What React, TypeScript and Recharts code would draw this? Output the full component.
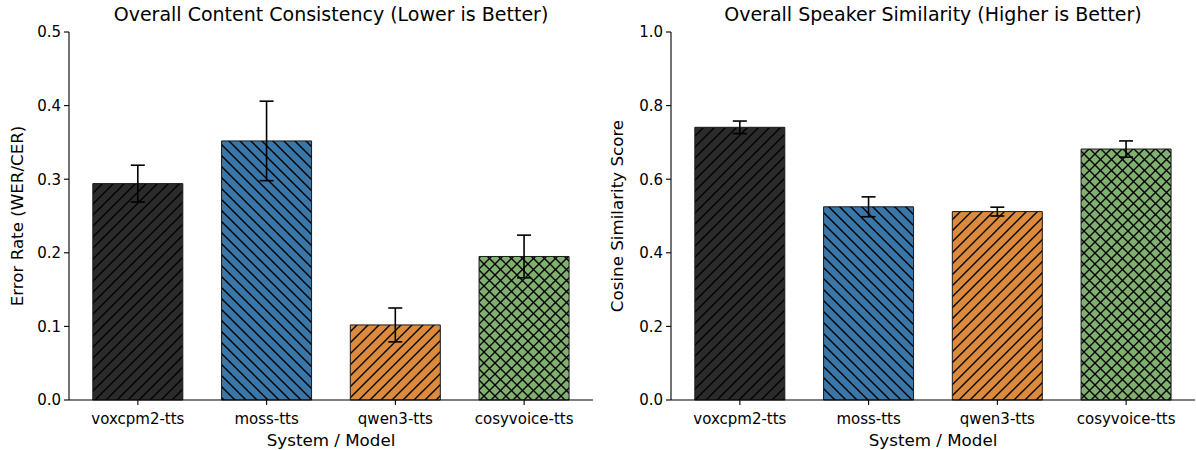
import React from "react";
import { BarChart, Bar, XAxis, YAxis, Cell, ErrorBar } from "recharts";

const models = ["voxcpm2-tts", "moss-tts", "qwen3-tts", "cosyvoice-tts"];
const errorRate = [0.294, 0.352, 0.102, 0.195];
const errorRateStd = [0.025, 0.054, 0.023, 0.029];
const similarity = [0.741, 0.525, 0.512, 0.682];
const similarityStd = [0.017, 0.027, 0.012, 0.022];

const errorTicks = [0, 0.1, 0.2, 0.3, 0.4, 0.5];
const simTicks = [0, 0.2, 0.4, 0.6, 0.8, 1.0];

const colors = ["#2b2b2b", "#3a76a8", "#dc8a3e", "#7fb070"];
const hatches = ["up", "down", "up", "cross"];

const FONT = "'DejaVu Sans', sans-serif";

const errorData = models.map((m, i) => ({ model: m, value: errorRate[i], err: errorRateStd[i] }));
const simData = models.map((m, i) => ({ model: m, value: similarity[i], err: similarityStd[i] }));

function HatchDefs({ prefix }: { prefix: string }) {
  return (
    <defs>
      {colors.map((c, i) => (
        <pattern
          key={i}
          id={`${prefix}-hatch-${i}`}
          patternUnits="userSpaceOnUse"
          width={11}
          height={11}
        >
          <rect width={11} height={11} fill={c} />
          {(hatches[i] === "up" || hatches[i] === "cross") && (
            <path d="M-2,2 L2,-2 M0,11 L11,0 M9,13 L13,9" stroke="#000" strokeWidth={1.4} />
          )}
          {(hatches[i] === "down" || hatches[i] === "cross") && (
            <path d="M-2,9 L2,13 M0,0 L11,11 M9,-2 L13,2" stroke="#000" strokeWidth={1.4} />
          )}
        </pattern>
      ))}
    </defs>
  );
}

const tickStyle = { fontSize: 15, fontFamily: FONT, fill: "#000" };
const labelStyle = { fontSize: 16.7, fontFamily: FONT, fill: "#000" };

interface PanelProps {
  prefix: string;
  data: { model: string; value: number; err: number }[];
  ticks: number[];
  domain: [number, number];
  yLabel: string;
  width: number;
  yWidth: number;
  right: number;
}

function Panel({ prefix, data, ticks, domain, yLabel, width, yWidth, right }: PanelProps) {
  return (
    <BarChart
      width={width}
      height={450}
      data={data}
      margin={{ top: 32, right, bottom: 0, left: 0 }}
      barCategoryGap="15%"
    >
      <HatchDefs prefix={prefix} />
      <XAxis
        dataKey="model"
        height={50}
        padding={{ left: 4.5, right: 4.5 }}
        tick={tickStyle}
        tickSize={5}
        tickMargin={8}
        axisLine={{ stroke: "#000", strokeWidth: 1.1 }}
        tickLine={{ stroke: "#000", strokeWidth: 1.1 }}
        label={{ value: "System / Model", position: "insideBottom", offset: 4, style: labelStyle }}
      />
      <YAxis
        width={yWidth}
        domain={domain}
        ticks={ticks}
        tickFormatter={(v: number) => v.toFixed(1)}
        tick={tickStyle}
        tickSize={5}
        tickMargin={3}
        axisLine={{ stroke: "#000", strokeWidth: 1.1 }}
        tickLine={{ stroke: "#000", strokeWidth: 1.1 }}
        label={{
          value: yLabel,
          angle: -90,
          position: "insideLeft",
          offset: 17,
          style: { ...labelStyle, textAnchor: "middle" },
        }}
      />
      <Bar dataKey="value" isAnimationActive={false} stroke="#1a1a1a" strokeWidth={1}>
        {data.map((_, i) => (
          <Cell key={i} fill={`url(#${prefix}-hatch-${i})`} />
        ))}
        <ErrorBar dataKey="err" width={7} stroke="#000" strokeWidth={1.6} direction="y" isAnimationActive={false} />
      </Bar>
    </BarChart>
  );
}

const titleStyle: React.CSSProperties = {
  position: "absolute",
  top: 3,
  fontFamily: FONT,
  fontSize: 19,
  color: "#000",
  textAlign: "center",
  whiteSpace: "nowrap",
};

export default function App() {
  return (
    <div style={{ position: "absolute", left: 0, top: 0, width: 1196, height: 450, background: "#fff" }}>
      <div style={{ position: "absolute", left: 0, top: 0 }}>
        <Panel
          prefix="L"
          data={errorData}
          ticks={errorTicks}
          domain={[0, 0.5]}
          yLabel="Error Rate (WER/CER)"
          width={600}
          yWidth={69}
          right={7}
        />
      </div>
      <div style={{ position: "absolute", left: 600, top: 0 }}>
        <Panel
          prefix="R"
          data={simData}
          ticks={simTicks}
          domain={[0, 1]}
          yLabel="Cosine Similarity Score"
          width={596}
          yWidth={71}
          right={1}
        />
      </div>
      <div style={{ ...titleStyle, left: 69, width: 524 }}>Overall Content Consistency (Lower is Better)</div>
      <div style={{ ...titleStyle, left: 671, width: 524 }}>Overall Speaker Similarity (Higher is Better)</div>
    </div>
  );
}
